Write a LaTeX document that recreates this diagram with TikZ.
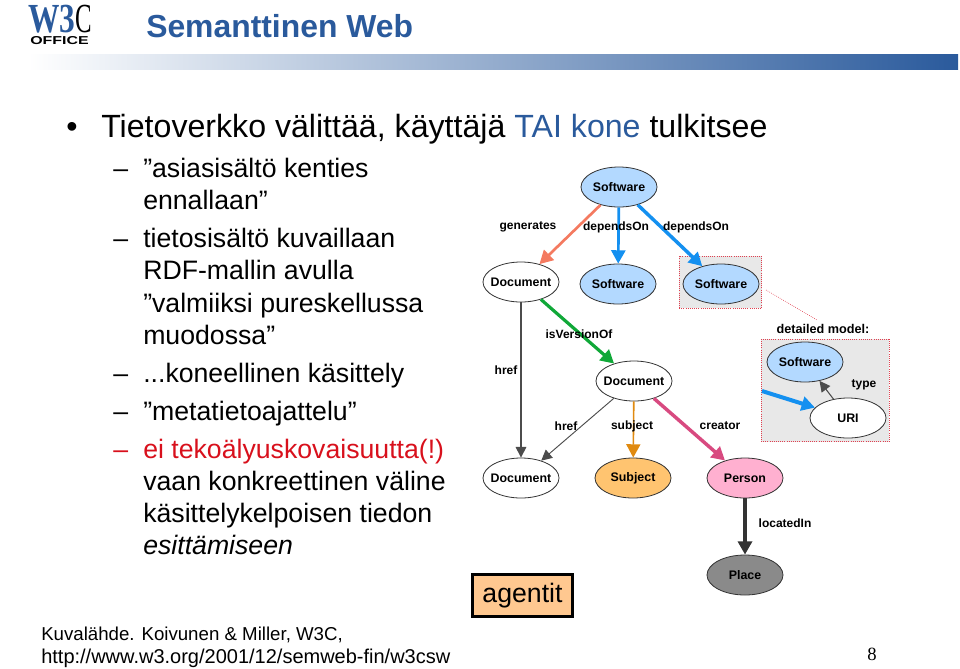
\documentclass[tikz,border=0pt]{standalone}
\usepackage{fontspec}
\setmainfont{Liberation Sans}
\newfontfamily\pagefont{Liberation Serif}
\usetikzlibrary{positioning}
\usetikzlibrary{arrows.meta}
\usetikzlibrary{shapes.geometric}
\definecolor{titleblue}{HTML}{2A5A9C}
\definecolor{softblue}{HTML}{B3D9FF}
\definecolor{arrowblue}{HTML}{1490F0}
\definecolor{salmon}{HTML}{F47A60}
\definecolor{leaf}{HTML}{10A838}
\definecolor{amber}{HTML}{E08A10}
\definecolor{subjectfill}{HTML}{FFC470}
\definecolor{rose}{HTML}{D84A80}
\definecolor{personfill}{HTML}{FFB0D0}
\definecolor{placefill}{HTML}{8A8A8A}
\definecolor{panel}{HTML}{E8E8E8}
\definecolor{peach}{HTML}{FFC890}
\definecolor{inkred}{HTML}{E04050}
\definecolor{textred}{HTML}{D8101C}
\tikzset{
  main node/.style={ellipse,draw=black!80,line width=.6pt,minimum width=57pt,minimum height=30pt,inner xsep=-4pt,inner ysep=-1pt,font=\fontsize{9.3}{9.3}\selectfont\bfseries},
  link label/.style={font=\fontsize{9}{9}\selectfont\bfseries,inner sep=0pt},
  big text/.style={anchor=base west,inner sep=0pt,font=\fontsize{24.1}{24.1}\selectfont},
  sub text/.style={anchor=base west,inner sep=0pt,font=\fontsize{20}{20}\selectfont},
  small text/.style={anchor=base west,inner sep=0pt,font=\fontsize{15}{15}\selectfont},
  zoom box/.style={fill=panel,draw=inkred,densely dotted,line width=.6pt},
  big tip/.style={-{Triangle[length=10pt,width=10.5pt]}},
  thin tip/.style={-{Triangle[length=8pt,width=8pt]}},
}
\begin{document}
\begin{tikzpicture}[x=.75pt,y=-.75pt,big tip]
\useasboundingbox (0,0) rectangle (960,668);
\shade[left color=white,right color=titleblue,draw=none,-] (28,54) rectangle (958,69);
% logo
\node[anchor=base west,inner sep=0pt,text=titleblue,font=\pagefont\fontsize{31}{31}\selectfont\bfseries] (logow) at (28,32) {\scalebox{.76}[1]{W3}\scalebox{.6}[1]{\textcolor{black}{\mdseries C}}};
\node[anchor=base west,inner sep=0pt,font=\fontsize{8.6}{8.6}\selectfont\bfseries] (logooffice) at (30,44.5) {\scalebox{1.39}[1]{OFFICE}};
\node[anchor=base west,inner sep=0pt,text=titleblue,font=\fontsize{23.9}{23.9}\selectfont\bfseries] (title) at (146,37) {Semanttinen Web};
% text
\node[big text] (bullet) at (66,137) {•};
\node[big text] (line0) at (101,137) {Tietoverkko välittää, käyttäjä \textcolor{titleblue}{TAI kone} tulkitsee};
\foreach \name/\ypos/\txt in {dasha/177/–,dashb/247/–,dashc/382/–,dashd/420/–}
  \node[sub text] (\name) at (113,\ypos) {\txt};
\node[sub text,text=textred] (dashe) at (113,458) {–};
\node[sub text] (line1) at (143,177) {”asiasisältö kenties};
\node[sub text] (line2) at (143,209) {ennallaan”};
\node[sub text] (line3) at (143,247) {tietosisältö kuvaillaan};
\node[sub text] (line4) at (143,279) {RDF-mallin avulla};
\node[sub text] (line5) at (143,312) {”valmiiksi pureskellussa};
\node[sub text] (line6) at (143,344) {muodossa”};
\node[sub text] (line7) at (143,382) {...koneellinen käsittely};
\node[sub text] (line8) at (143,420) {”metatietoajattelu”};
\node[sub text,text=textred] (line9) at (143,458) {ei tekoälyuskovaisuutta(!)};
\node[sub text] (line10) at (143,490) {vaan konkreettinen väline};
\node[sub text] (line11) at (143,522) {käsittelykelpoisen tiedon};
\node[sub text,font=\fontsize{20}{20}\selectfont\itshape] (line12) at (143,554) {esittämiseen};
\node[small text,font=\fontsize{14}{14}\selectfont] (source1) at (41,640) {Kuvalähde. Koivunen \& Miller, W3C,};
\node[small text] (source2) at (41,663) {http://www.w3.org/2001/12/semweb-fin/w3csw};
\node[anchor=base,inner sep=0pt,font=\pagefont\fontsize{14}{14}\selectfont] (pagenum) at (872,660) {8};
% panels
\node[zoom box,minimum width=62pt,minimum height=39pt,inner sep=0pt] (swbox) at (720.5,282) {};
\node[zoom box,minimum width=96pt,minimum height=77pt,inner sep=0pt] (detailbox) at (825,390.5) {};
% graph
\node[main node,fill=softblue] (swtop) at (619,187) {Software};
\node[main node,fill=white] (doca) at (521,282) {Document};
\node[main node,fill=softblue] (swmid) at (618,284) {Software};
\node[main node,fill=softblue] (swright) at (721,284) {Software};
\node[main node,fill=white] (docb) at (634,381) {Document};
\node[main node,fill=white] (docc) at (521,478) {Document};
\node[main node,fill=subjectfill] (subj) at (633,478) {Subject};
\node[main node,fill=personfill] (person) at (745,478) {Person};
\node[main node,fill=placefill] (place) at (745,575) {Place};
\node[main node,fill=softblue] (swdetail) at (805,362) {Software};
\node[main node,fill=white] (uri) at (848,418) {URI};
\node[draw=black,fill=peach,line width=2.2pt,minimum width=75pt,minimum height=32pt,inner sep=0pt,font=\fontsize{20}{20}\selectfont] (agents) at (522.5,595.5) {agentit};
\coordinate (bluestart) at (762,391);
\coordinate (dota) at (766,290);
\coordinate (dotb) at (817,320);
\draw[salmon,line width=2pt] (swtop) -- (doca);
\draw[arrowblue,line width=2pt] (swtop) -- (swmid);
\draw[arrowblue,line width=2.6pt] (swtop) -- (swright);
\draw[leaf,line width=2.4pt] (doca) -- (docb);
\draw[black!70,line width=.8pt,thin tip] (doca) -- (docc);
\draw[black!70,line width=.7pt,thin tip] (docb) -- (docc);
\draw[amber,line width=1.2pt] (docb) -- (subj);
\draw[rose,line width=2.6pt] (docb) -- (person);
\draw[black!80,line width=2.6pt] (person) -- (place);
\draw[arrowblue,line width=3pt] (bluestart) -- (uri);
\draw[black!70,line width=.8pt,thin tip] (uri) -- (swdetail);
\draw[inkred,densely dotted,line width=.5pt,-] (dota) -- (dotb);
% labels
\node[link label] (lgen) at (528,227) {generates};
\node[link label] (ldep1) at (616,227) {dependsOn};
\node[link label] (ldep2) at (696,227) {dependsOn};
\node[link label] (lver) at (579,334) {isVersionOf};
\node[link label] (lhref1) at (506,370) {href};
\node[link label] (lhref2) at (566,426) {href};
\node[link label] (lsubj) at (632,426) {subject};
\node[link label] (lcreat) at (720,426) {creator};
\node[link label] (lloc) at (785,523) {locatedIn};
\node[link label] (ltype) at (864,385) {type};
\node[link label,font=\fontsize{9.5}{9.5}\selectfont\bfseries] (ldetail) at (823,329) {detailed model:};
\end{tikzpicture}
\end{document}
